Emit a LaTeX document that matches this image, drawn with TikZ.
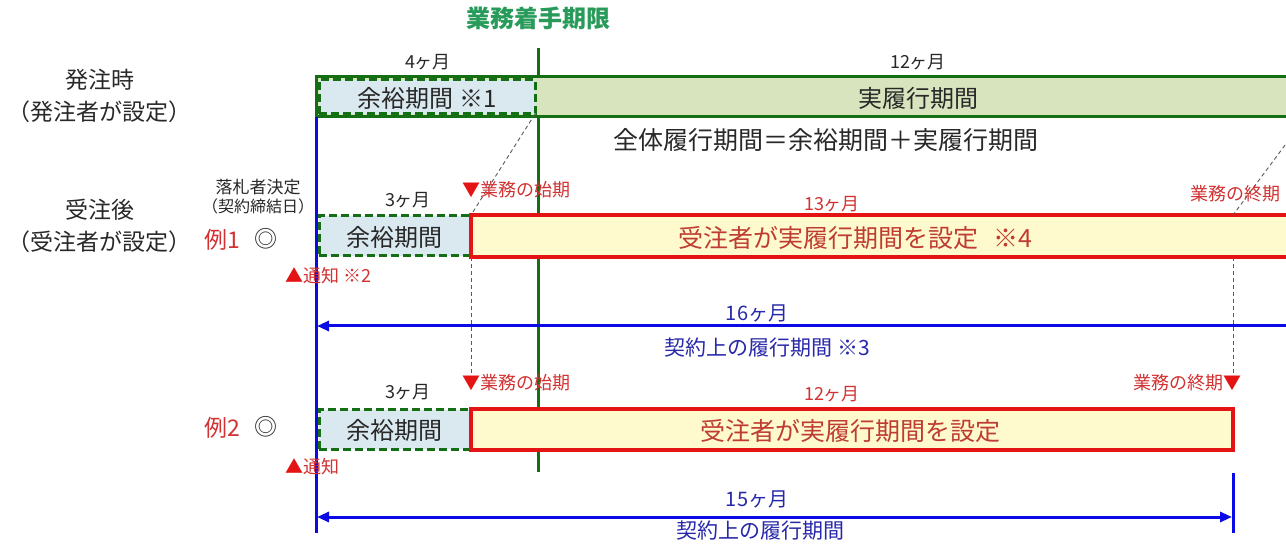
\documentclass[tikz,border=0pt]{standalone}
\usepackage{fontspec}
\newfontfamily\jp{Noto Sans CJK JP}
\usetikzlibrary{arrows.meta}
\definecolor{titlegreen}{RGB}{40,155,90}
\definecolor{dkgreen}{RGB}{20,110,20}
\definecolor{lblue}{RGB}{218,233,240}
\definecolor{lgreen}{RGB}{216,228,190}
\definecolor{lyellow}{RGB}{255,250,205}
\definecolor{boxred}{RGB}{228,20,20}
\definecolor{redtxt}{RGB}{210,50,50}
\definecolor{browntxt}{RGB}{190,60,50}
\definecolor{bline}{RGB}{10,10,230}
\definecolor{btxt}{RGB}{40,40,170}
\definecolor{guidegray}{RGB}{90,90,90}
\definecolor{txt}{RGB}{40,40,40}
\begin{document}
\begin{tikzpicture}[x=1pt,y=-1pt,
  every node/.style={inner sep=0pt, outer sep=0pt},
  big/.style={font=\jp\fontsize{23}{27}\selectfont, text=txt},
  main/.style={font=\jp\fontsize{24}{28}\selectfont, text=txt},
  small/.style={font=\jp\fontsize{18}{22}\selectfont, text=txt},
  blab/.style={font=\jp\fontsize{21}{25}\selectfont, text=btxt},
  tiny/.style={font=\jp\fontsize{16}{19}\selectfont, text=txt},
  greenbar/.style={draw=dkgreen, line width=3pt, fill=lgreen, rectangle, anchor=north west},
  dashbox/.style={draw=dkgreen, line width=3pt, dash pattern=on 8pt off 4pt, fill=lblue, rectangle, anchor=north west},
  redbox/.style={draw=boxred, line width=3.5pt, fill=lyellow, rectangle, anchor=north west},
  guide/.style={draw=guidegray, dash pattern=on 4pt off 3pt, line width=0.9pt},
  gline/.style={draw=dkgreen, line width=3pt},
  bluel/.style={draw=bline, line width=3pt},
  tipA/.tip={Triangle[length=12pt,width=10pt]}
]
\useasboundingbox (0,0) rectangle (1286,545);
\clip (0,0) rectangle (1286,545);
\fill[white] (0,0) rectangle (1286,545);

% green deadline line
\coordinate (gtop) at (538,48);
\coordinate (gbot) at (538,472);
\draw[gline] (gtop) -- (gbot);

% top bar
\node[greenbar, minimum width=990pt, minimum height=40pt] (bar) at (316,77) {};
\node[dashbox, minimum width=216pt, minimum height=34pt] (topdash) at (319,80) {};

% row 1 boxes
\node[dashbox, minimum width=151pt, minimum height=40pt] (dash1) at (319,216) {};
\node[redbox, minimum width=830pt, minimum height=42pt] (red1) at (471,215) {};
% row 2 boxes
\node[dashbox, minimum width=151pt, minimum height=39pt] (dash2) at (319,410) {};
\node[redbox, minimum width=762pt, minimum height=41pt] (red2) at (471,409) {};

% guides
\coordinate (end1t) at (1233,215);
\coordinate (end1b) at (1233,257);
\coordinate (end2t) at (1233,378);
\coordinate (start2t) at (471,378);
\draw[guide] (topdash.south east) -- (red1.north west);
\draw[guide] (red1.south west) -- (start2t);
\draw[guide] (bar.south east) -- (end1t);
\draw[guide] (end1b) -- (end2t);

% blue lines
\coordinate (btop) at (316,117);
\coordinate (bbot) at (316,533);
\draw[bluel] (btop) -- (bbot);
\coordinate (e15t) at (1233,473);
\coordinate (e15b) at (1233,533);
\draw[bluel] (e15t) -- (e15b);
\coordinate (a16l) at (317,326);
\coordinate (a16r) at (1300,326);
\draw[bluel, tipA-] (a16l) -- (a16r);
\coordinate (a15l) at (317,517);
\coordinate (a15r) at (1232,517);
\draw[bluel, tipA-tipA] (a15l) -- (a15r);

% title
\node[font=\jp\fontsize{24}{28}\selectfont\bfseries, text=titlegreen] (title) at (538,18) {業務着手期限};

% left labels
\node[big] (hl1) at (100,80) {発注時};
\node[big] (hl2) at (100,112) {（発注者が設定）};
\node[big] (jl1) at (100,210) {受注後};
\node[big] (jl2) at (100,242) {（受注者が設定）};
\node[tiny, font=\jp\fontsize{17}{20}\selectfont] (rk1) at (258,187) {落札者決定};
\node[tiny] (rk2) at (258,206) {（契約締結日）};
\node[big, text=redtxt] (ex1) at (222,240) {例1};
\node[big] (ex1m) at (266,239) {◎};
\node[big, text=redtxt] (ex2) at (222,428) {例2};
\node[big] (ex2m) at (266,427) {◎};

% top row
\node[small] (m4) at (428,62) {4ヶ月};
\node[small] (m12) at (918,62) {12ヶ月};
\node[main] (t1) at (427,98) {余裕期間 ※1};
\node[main] (t2) at (918,98) {実履行期間};
\node[main, font=\jp\fontsize{25}{29}\selectfont] (total) at (826,140) {全体履行期間＝余裕期間＋実履行期間};

% row 1 labels
\node[small] (m3a) at (408,200) {3ヶ月};
\node[small, text=redtxt, anchor=west] (s1) at (462,190) {\textcolor{boxred}{▼}業務の始期};
\node[small, text=redtxt] (m13) at (832,204) {13ヶ月};
\node[small, text=redtxt, anchor=west] (e1) at (1190,194) {業務の終期};
\node[main] (y1) at (394,237) {余裕期間};
\node[main, font=\jp\fontsize{25}{29}\selectfont, text=browntxt] (r1) at (855,238) {受注者が実履行期間を設定\hspace{0.6em}※4};
\node[small, text=redtxt, anchor=west] (n1) at (285,276) {\textcolor{boxred}{▲}通知 ※2};

% 16 months
\node[blab, font=\jp\fontsize{20}{24}\selectfont] (m16) at (757,313) {16ヶ月};
\node[blab] (c16) at (767,348) {契約上の履行期間 ※3};

% row 2 labels
\node[small] (m3b) at (408,392) {3ヶ月};
\node[small, text=redtxt, anchor=west] (s2) at (462,383) {\textcolor{boxred}{▼}業務の始期};
\node[small, text=redtxt] (m12b) at (832,394) {12ヶ月};
\node[small, text=redtxt, anchor=east] (e2) at (1241,383) {業務の終期\textcolor{boxred}{▼}};
\node[main] (y2) at (394,430) {余裕期間};
\node[main, font=\jp\fontsize{25}{29}\selectfont, text=browntxt] (r2) at (850,431) {受注者が実履行期間を設定};
\node[small, text=redtxt, anchor=west] (n2) at (285,467) {\textcolor{boxred}{▲}通知};

% 15 months
\node[blab, font=\jp\fontsize{20}{24}\selectfont] (m15) at (757,499) {15ヶ月};
\node[blab] (c15) at (760,531) {契約上の履行期間};
\end{tikzpicture}
\end{document}
